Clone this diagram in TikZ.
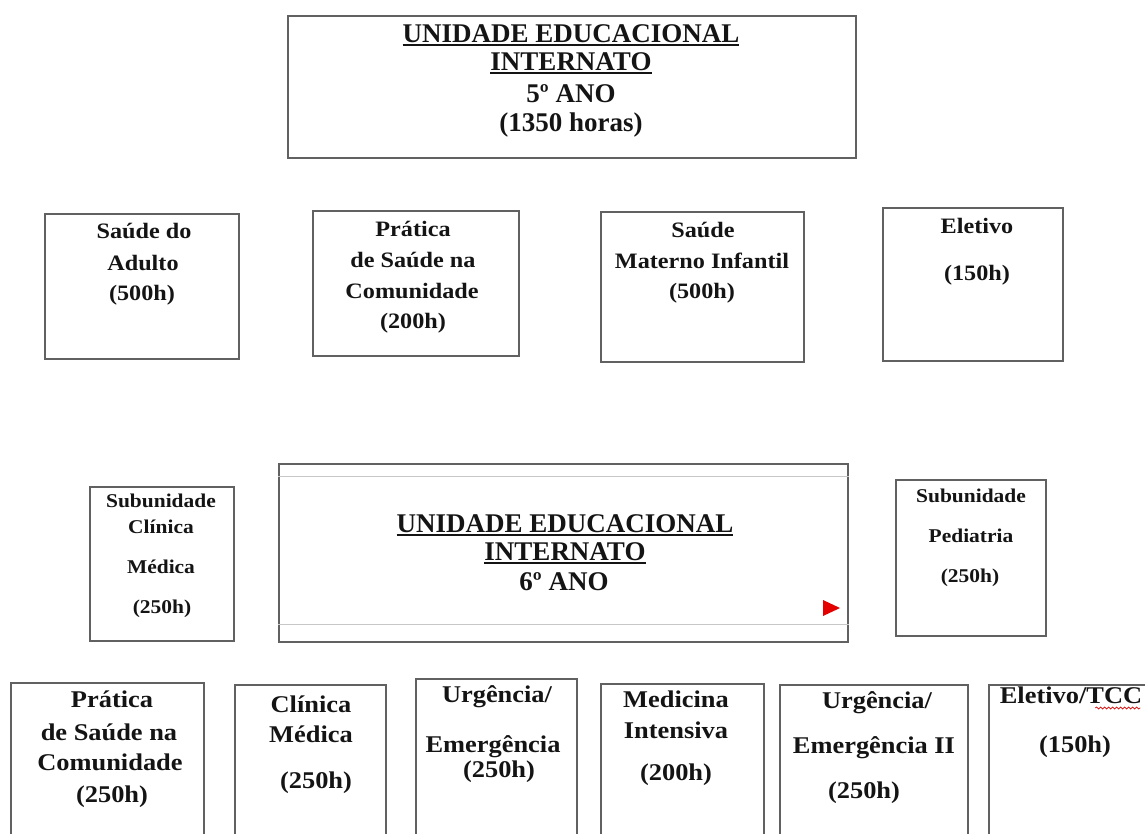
\documentclass[tikz,border=0pt]{standalone}
\usepackage{fontspec}
\setmainfont{Liberation Serif}
\newfontfamily\widefont{Liberation Serif}[FakeStretch=1.1]
\usetikzlibrary{decorations.pathmorphing}
\newcommand\myul[1]{\setbox0\hbox{#1}\rlap{\rule[-3.5pt]{\wd0}{1.5pt}}\box0}
\tikzset{
  box/.style={draw=black!62, line width=1.5pt, inner sep=0pt, anchor=north west, fill=none},
  title/.style={anchor=base, inner sep=0pt, text=black!92, font=\bfseries\fontsize{27}{30}\selectfont},
  mid/.style={anchor=base, inner sep=0pt, text=black!92, font=\widefont\bfseries\fontsize{22}{26}\selectfont},
  small/.style={anchor=base, inner sep=0pt, text=black!92, font=\widefont\bfseries\fontsize{19.5}{22}\selectfont},
  low/.style={anchor=base, inner sep=0pt, text=black!92, font=\widefont\bfseries\fontsize{24}{28}\selectfont},
  inner/.style={draw=black!22, line width=0.8pt},
}
\begin{document}
\begin{tikzpicture}[x=1pt,y=-1pt]
\useasboundingbox[fill=white] (0,0) rectangle (1145,833);

% ---------- top box (5th year)
\node[box, minimum width=568pt, minimum height=142pt] (top) at (287,15) {};
\node[title] (t1) at (571,42) {\myul{UNIDADE EDUCACIONAL}};
\node[title] (t2) at (571,70) {\myul{INTERNATO}};
\node[title] (t3) at (571,102) {5º ANO};
\node[title] (t4) at (571,131) {(1350 horas)};

% ---------- row 2
\node[box, minimum width=194pt, minimum height=145pt] (bA) at (44,213) {};
\node[mid] (a1) at (144,238) {Saúde do};
\node[mid] (a2) at (143,270) {Adulto};
\node[mid] (a3) at (142,300) {(500h)};

\node[box, minimum width=206pt, minimum height=145pt] (bB) at (312,210) {};
\node[mid] (b1) at (413,236) {Prática};
\node[mid] (b2) at (413,267) {de Saúde na};
\node[mid] (b3) at (412,298) {Comunidade};
\node[mid] (b4) at (413,328) {(200h)};

\node[box, minimum width=203pt, minimum height=150pt] (bC) at (600,211) {};
\node[mid] (c1) at (703,237) {Saúde};
\node[mid] (c2) at (702,268) {Materno Infantil};
\node[mid] (c3) at (702,298) {(500h)};

\node[box, minimum width=180pt, minimum height=153pt] (bD) at (882,207) {};
\node[mid] (d1) at (977,233) {Eletivo};
\node[mid] (d2) at (977,280) {(150h)};

% ---------- row 3
\node[box, minimum width=144pt, minimum height=154pt] (sCM) at (89,486) {};
\node[small] (s1) at (161,507) {Subunidade};
\node[small] (s2) at (161,533) {Clínica};
\node[small] (s3) at (161,573) {Médica};
\node[small] (s4) at (162,613) {(250h)};

\node[box, minimum width=569pt, minimum height=178pt] (cen) at (278,463) {};
\draw[inner] ([yshift=-13pt]cen.north west) -- ([yshift=-13pt]cen.north east);
\draw[inner] ([yshift=18pt]cen.south west) -- ([yshift=18pt]cen.south east);
\node[title] (m1) at (565,532) {\myul{UNIDADE EDUCACIONAL}};
\node[title] (m2) at (565,560) {\myul{INTERNATO}};
\node[title] (m3) at (564,590) {6º ANO};
\fill[red!90!black] (823,600) -- (823,616) -- (840,608) -- cycle;

\node[box, minimum width=150pt, minimum height=156pt] (sPed) at (895,479) {};
\node[small] (p1) at (971,502) {Subunidade};
\node[small] (p2) at (971,542) {Pediatria};
\node[small] (p3) at (970,582) {(250h)};

% ---------- bottom row
\node[box, minimum width=193pt, minimum height=170pt] (e1) at (10,682) {};
\node[low] (e1a) at (112,707) {Prática};
\node[low] (e1b) at (109,740) {de Saúde na};
\node[low] (e1c) at (110,770) {Comunidade};
\node[low] (e1d) at (112,802) {(250h)};

\node[box, minimum width=151pt, minimum height=170pt] (e2) at (234,684) {};
\node[low] (e2a) at (311,712) {Clínica};
\node[low] (e2b) at (311,742) {Médica};
\node[low] (e2c) at (316,788) {(250h)};

\node[box, minimum width=161pt, minimum height=170pt] (e3) at (415,678) {};
\node[low] (e3a) at (497,702) {Urgência/};
\node[low] (e3b) at (493,752) {Emergência};
\node[low] (e3c) at (499,777) {(250h)};

\node[box, minimum width=163pt, minimum height=170pt] (e4) at (600,683) {};
\node[low] (e4a) at (676,707) {Medicina};
\node[low] (e4b) at (676,738) {Intensiva};
\node[low] (e4c) at (676,780) {(200h)};

\node[box, minimum width=188pt, minimum height=170pt] (e5) at (779,684) {};
\node[low] (e5a) at (877,708) {Urgência/};
\node[low] (e5b) at (874,753) {Emergência II};
\node[low] (e5c) at (864,798) {(250h)};

\node[box, minimum width=175pt, minimum height=170pt] (e6) at (988,684) {};
\node[low] (e6a) at (1071,703) {Eletivo/TCC};
\node[low] (e6b) at (1075,752) {(150h)};
\draw[red!85!black, line width=0.7pt, decorate, decoration={snake, amplitude=1pt, segment length=4pt}]
  ([xshift=-47pt,yshift=-5pt]e6a.base east) -- ([xshift=-2pt,yshift=-5pt]e6a.base east);
\end{tikzpicture}
\end{document}
